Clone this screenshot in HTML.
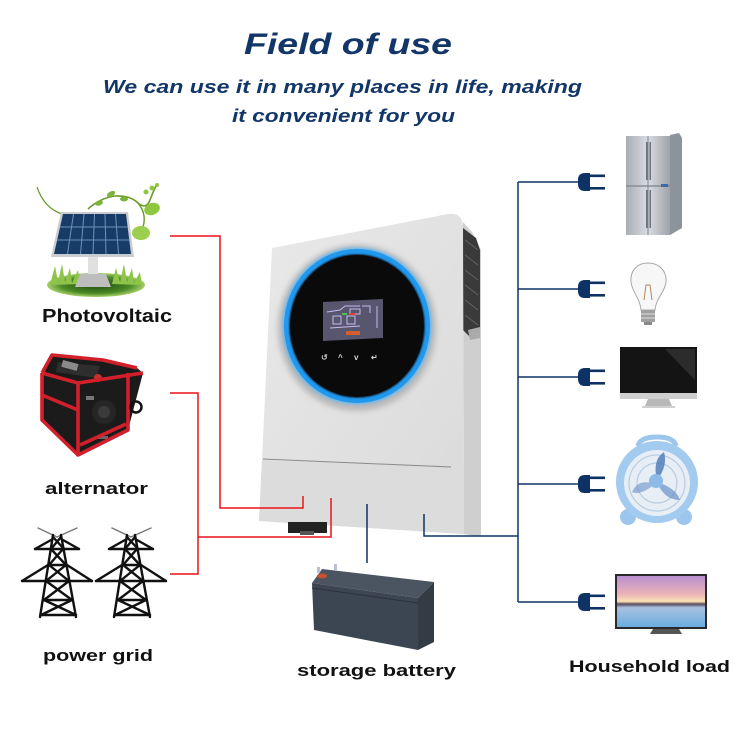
<!DOCTYPE html>
<html><head><meta charset="utf-8"><style>
html,body{margin:0;padding:0;background:#fff;}
svg{display:block;}
text{font-family:"Liberation Sans",Arial,sans-serif;font-weight:700;}
</style></head><body>
<svg width="750" height="750" viewBox="0 0 750 750" xmlns="http://www.w3.org/2000/svg">
<defs>
<linearGradient id="front" x1="0" y1="0" x2="1" y2="1"><stop offset="0" stop-color="#e9e9e9"/><stop offset="1" stop-color="#dadada"/></linearGradient>
<linearGradient id="fridge" x1="0" y1="0" x2="1" y2="0"><stop offset="0" stop-color="#a9aeb5"/><stop offset="0.5" stop-color="#d9dce0"/><stop offset="1" stop-color="#9ea3aa"/></linearGradient>
<linearGradient id="sky" x1="0" y1="0" x2="0" y2="1"><stop offset="0" stop-color="#b98fd0"/><stop offset="0.35" stop-color="#eab2b8"/><stop offset="0.5" stop-color="#fbe2b4"/><stop offset="0.55" stop-color="#5a4a60"/><stop offset="0.62" stop-color="#a8c0e0"/><stop offset="1" stop-color="#6aaee0"/></linearGradient>
<radialGradient id="grass" cx="0.5" cy="0.5" r="0.5"><stop offset="0" stop-color="#1f4a12"/><stop offset="0.7" stop-color="#4c8a25"/><stop offset="1" stop-color="#a6cf6a"/></radialGradient>
<filter id="blur" x="-20%" y="-20%" width="140%" height="140%"><feGaussianBlur stdDeviation="3"/></filter>
<filter id="blur2" x="-20%" y="-20%" width="140%" height="140%"><feGaussianBlur stdDeviation="1.5"/></filter>
</defs>
<rect width="750" height="750" fill="#fff"/>

<!-- Titles -->
<text x="244" y="54" font-size="30" font-style="italic" fill="#123668" textLength="208" lengthAdjust="spacingAndGlyphs">Field of use</text>
<text x="103" y="93" font-size="18" font-style="italic" fill="#123668" textLength="479" lengthAdjust="spacingAndGlyphs">We can use it in many places in life, making</text>
<text x="232" y="122" font-size="18" font-style="italic" fill="#123668" textLength="223" lengthAdjust="spacingAndGlyphs">it convenient for you</text>

<!-- Solar panel -->
<path d="M37,187 Q44,208 62,214" stroke="#6a9a2a" stroke-width="1.2" fill="none"/>
<path d="M88,209 Q100,198 115,196 Q130,195 138,203 Q146,210 150,200 Q153,192 156,186" stroke="#6a9a2a" stroke-width="1.6" fill="none"/>
<path d="M138,203 Q148,215 142,230" stroke="#6a9a2a" stroke-width="1.4" fill="none"/>
<ellipse cx="99" cy="203" rx="4" ry="2.5" fill="#7cb33a" transform="rotate(-20 99 203)"/>
<ellipse cx="111" cy="194" rx="4.5" ry="2.5" fill="#7cb33a" transform="rotate(-30 111 194)"/>
<ellipse cx="124" cy="199" rx="4" ry="2.5" fill="#7cb33a"/>
<ellipse cx="152" cy="209" rx="8" ry="6" fill="#8dc63f" transform="rotate(-20 152 209)"/>
<ellipse cx="141" cy="233" rx="9" ry="7" fill="#9ccf4f"/>
<circle cx="152" cy="188" r="2.5" fill="#8dc63f"/><circle cx="157" cy="185" r="2" fill="#8dc63f"/><circle cx="146" cy="192" r="2.5" fill="#8dc63f"/>
<ellipse cx="96" cy="285" rx="49" ry="12" fill="url(#grass)"/>
<path d="M50,285 L55,266 L58,282 L62,264 L65,282 L70,268 L72,283 L78,270 L80,284 Z" fill="#8fc44a"/>
<path d="M112,284 L116,268 L120,282 L124,264 L127,282 L132,268 L134,283 L140,272 L142,285 Z" fill="#8fc44a"/>
<polygon points="61,212 128,212 134,257 51,257" fill="#c9cdd2"/>
<polygon points="63,214 126,214 131,254 54,254" fill="#173c68"/>
<g stroke="#6f93b8" stroke-width="1">
<line x1="60" y1="227" x2="128" y2="227"/><line x1="57" y1="240" x2="130" y2="240"/>
<line x1="73.5" y1="214" x2="67.5" y2="254"/><line x1="84" y1="214" x2="80.5" y2="254"/><line x1="94.5" y1="214" x2="93" y2="254"/><line x1="105" y1="214" x2="106" y2="254"/><line x1="115.5" y1="214" x2="118.5" y2="254"/>
</g>
<rect x="88" y="257" width="10" height="18" fill="#e0e0e0"/>
<polygon points="80,274 106,274 111,287 75,287" fill="#bdbdbd"/>
<text x="42" y="322" font-size="18" fill="#111" textLength="130" lengthAdjust="spacingAndGlyphs">Photovoltaic</text>

<!-- Generator -->
<polygon points="42,373 52,355 103,360 137,368 143,373 128,430 78,455 42,420" fill="#1b1b1b"/>
<polygon points="58,362 100,366 96,378 56,372" fill="#2e2e2e"/>
<rect x="62" y="362" width="16" height="7" fill="#8a8a8a" transform="rotate(15 70 365)"/>
<circle cx="98" cy="378" r="4" fill="#c83030"/>
<circle cx="104" cy="412" r="12" fill="#262626"/>
<circle cx="104" cy="412" r="6" fill="#3a3a3a"/>
<rect x="86" y="396" width="8" height="4" fill="#777"/>
<rect x="96" y="436" width="12" height="3" fill="#666"/>
<g stroke="#d2202b" stroke-width="3.6" fill="none" stroke-linejoin="round">
<polyline points="42,373 52,355 103,360 137,368"/>
<polyline points="42,373 78,383 143,373"/>
<polyline points="78,383 78,455 128,430 128,373"/>
<polyline points="42,373 42,420 78,455"/>
<line x1="42" y1="395" x2="78" y2="410"/>
<line x1="80" y1="445" x2="126" y2="424"/>
</g>
<circle cx="136" cy="407" r="5.5" stroke="#111" stroke-width="2.5" fill="none"/>
<text x="45" y="494" font-size="17" fill="#111" textLength="103" lengthAdjust="spacingAndGlyphs">alternator</text>

<!-- Pylons -->
<g id="pyl" stroke="#111" stroke-width="2.4" fill="none" stroke-linecap="round">
<polyline points="38,528 57,537 77,528" stroke="#777" stroke-width="1.4"/>
<line x1="53" y1="535" x2="40" y2="617"/><line x1="61" y1="535" x2="76" y2="617"/>
<line x1="35" y1="549" x2="79" y2="549"/><line x1="35" y1="549" x2="51" y2="540"/><line x1="79" y1="549" x2="63" y2="540"/>
<line x1="22" y1="581" x2="92" y2="581"/><line x1="22" y1="581" x2="48" y2="565"/><line x1="92" y1="581" x2="67" y2="565"/>
<line x1="49" y1="565" x2="66" y2="565"/><line x1="44" y1="600" x2="72" y2="600"/><line x1="41" y1="615" x2="76" y2="615"/>
<line x1="53" y1="537" x2="64" y2="549"/><line x1="61" y1="537" x2="51" y2="549"/>
<line x1="51" y1="549" x2="66" y2="565"/><line x1="63" y1="549" x2="49" y2="565"/>
<line x1="49" y1="565" x2="69" y2="581"/><line x1="66" y1="565" x2="46" y2="581"/>
<line x1="46" y1="581" x2="72" y2="600"/><line x1="69" y1="581" x2="44" y2="600"/>
<line x1="44" y1="600" x2="76" y2="615"/><line x1="72" y1="600" x2="41" y2="615"/>
</g>
<use href="#pyl" transform="translate(74 0)"/>
<text x="43" y="661" font-size="17" fill="#111" textLength="110" lengthAdjust="spacingAndGlyphs">power grid</text>

<!-- Inverter -->
<polygon points="463,222 472,232 481,250 481,537 464,534" fill="#cfcfcf"/>
<polygon points="463,228 476,238 480,250 480,330 470,337 463,330" fill="#3a3a3a"/>
<g stroke="#666" stroke-width="0.8"><line x1="465" y1="240" x2="478" y2="250"/><line x1="465" y1="255" x2="478" y2="265"/><line x1="465" y1="270" x2="478" y2="280"/><line x1="465" y1="285" x2="478" y2="295"/><line x1="465" y1="300" x2="478" y2="310"/><line x1="465" y1="315" x2="478" y2="325"/></g>
<polygon points="468,330 480,327 480,338 470,340" fill="#aaa"/>
<path d="M272,248 L448,214 Q462,212 463,226 L464,534 L259,521 L262,460 Z" fill="url(#front)"/>
<path d="M262,460 L450,467 L464,468 L464,534 L259,521 Z" fill="#dcdcdc"/>
<line x1="263" y1="459" x2="451" y2="467" stroke="#8a8a8a" stroke-width="1"/>
<ellipse cx="357" cy="328" rx="79" ry="83" fill="#b8b8b8" filter="url(#blur)"/>
<ellipse cx="357" cy="326" rx="74" ry="78" fill="#4fb8ff" filter="url(#blur2)"/>
<ellipse cx="357" cy="326" rx="73" ry="77" fill="#1f98ee"/>
<ellipse cx="357" cy="326" rx="68" ry="72" fill="#0a0a0a"/>
<ellipse cx="357" cy="326" rx="68" ry="72" fill="none" stroke="#1d6fb0" stroke-width="2" opacity="0.6"/>
<polygon points="323,302 383,299 383,338 323,341" fill="#58566e"/>
<g stroke="#c8b8f0" stroke-width="1" fill="none">
<polyline points="327,312 340,310 345,306 360,306"/><rect x="350" y="309" width="10" height="5"/><rect x="333" y="316" width="8" height="8"/><rect x="347" y="316" width="8" height="8"/><polyline points="362,306 370,306 370,313"/><line x1="377" y1="306" x2="377" y2="328"/><line x1="330" y1="328" x2="360" y2="326"/>
</g>
<rect x="342" y="313" width="5" height="2" fill="#50c050"/><rect x="350" y="313" width="5" height="2" fill="#e04040"/>
<rect x="346" y="331" width="14" height="4" fill="#d06030"/>
<g fill="#d0d0d0" font-size="8"><text x="321" y="360">↺</text><text x="338" y="360">^</text><text x="354" y="360">v</text><text x="371" y="360">↵</text></g>
<rect x="288" y="522" width="39" height="11" fill="#222"/>
<rect x="300" y="531" width="14" height="4" fill="#555"/>

<!-- Battery -->
<polygon points="312,583 322,569 434,582 418,598" fill="#4b5561"/>
<polygon points="312,583 418,598 418,650 314,630" fill="#3c4652"/>
<polygon points="418,598 434,582 434,642 418,650" fill="#333b45"/>
<line x1="312" y1="588" x2="418" y2="603" stroke="#2b323b" stroke-width="1"/>
<ellipse cx="322" cy="576" rx="5" ry="2.5" fill="#c8502a"/>
<rect x="317" y="567" width="3" height="6" fill="#b8c0d0"/><rect x="334" y="564" width="3" height="6" fill="#b8c0d0"/>
<text x="297" y="676" font-size="17" fill="#111" textLength="159" lengthAdjust="spacingAndGlyphs">storage battery</text>

<!-- Connectors -->
<g fill="none" stroke-width="1.5">
<polyline points="170,236 220,236 220,508 303,508 303,496" stroke="#e8141a"/>
<polyline points="170,393 198,393 198,574 170,574" stroke="#e8141a"/>
<polyline points="198,537 331,537 331,498" stroke="#e8141a"/>
<line x1="367" y1="504" x2="367" y2="563" stroke="#0d3366"/>
<polyline points="424,514 424,536 518,536" stroke="#0d3366"/>
<line x1="518" y1="182" x2="518" y2="602" stroke="#0d3366"/>
<line x1="518" y1="182" x2="580" y2="182" stroke="#0d3366"/>
<line x1="518" y1="289" x2="580" y2="289" stroke="#0d3366"/>
<line x1="518" y1="377" x2="580" y2="377" stroke="#0d3366"/>
<line x1="518" y1="484" x2="580" y2="484" stroke="#0d3366"/>
<line x1="518" y1="602" x2="580" y2="602" stroke="#0d3366"/>
</g>
<g id="plug" fill="#0d3366">
<path d="M585,173 L590,173 L590,191 L585,191 Q578,191 578,184 L578,180 Q578,173 585,173 Z"/>
<rect x="590" y="174.5" width="15" height="2.6"/><rect x="590" y="187" width="15" height="2.6"/>
</g>
<use href="#plug" transform="translate(0 107)"/>
<use href="#plug" transform="translate(0 195)"/>
<use href="#plug" transform="translate(0 302)"/>
<use href="#plug" transform="translate(0 420)"/>

<!-- Fridge -->
<polygon points="670,135 679,133 682,138 682,228 670,235" fill="#8d939b"/>
<rect x="626" y="136" width="44" height="99" fill="url(#fridge)"/>
<line x1="648" y1="136" x2="648" y2="235" stroke="#7e848c" stroke-width="1"/>
<line x1="626" y1="186" x2="670" y2="186" stroke="#7e848c" stroke-width="1.2"/>
<rect x="646" y="142" width="1.5" height="38" fill="#6c727a"/><rect x="649.5" y="142" width="1.5" height="38" fill="#6c727a"/>
<rect x="646" y="190" width="1.5" height="38" fill="#6c727a"/><rect x="649.5" y="190" width="1.5" height="38" fill="#6c727a"/>
<rect x="661" y="184" width="7" height="3" fill="#3a6aa8"/>

<!-- Bulb -->
<path d="M648,263 C636,263 630,272 631,282 C632,292 640,298 641,310 L655,310 C656,298 665,292 666,282 C667,272 660,263 648,263 Z" fill="#f7f7f7" stroke="#a8a8a8" stroke-width="1"/>
<path d="M644,300 L646,285 L650,285 L652,300" stroke="#b08a5a" fill="none" stroke-width="1"/>
<rect x="641" y="310" width="14" height="12" fill="#a0a0a0"/>
<line x1="641" y1="314" x2="655" y2="314" stroke="#ddd"/><line x1="641" y1="318" x2="655" y2="318" stroke="#ddd"/>
<rect x="644" y="322" width="8" height="3" fill="#888"/>

<!-- Monitor -->
<rect x="620" y="347" width="77" height="46" fill="#141414"/>
<polygon points="665,349 695,349 695,380" fill="#2c2c2c"/>
<rect x="620" y="393" width="77" height="6" fill="#cfcfcf"/>
<polygon points="648,399 669,399 672,406 645,406" fill="#b8b8b8"/>
<rect x="642" y="406" width="33" height="2" fill="#d0d0d0"/>

<!-- Fan -->
<path d="M638,446 Q640,437 657,437 Q674,437 676,446" stroke="#9ec6ec" stroke-width="5" fill="none"/>
<circle cx="628" cy="517" r="8" fill="#9cc6ee"/><circle cx="684" cy="517" r="8" fill="#9cc6ee"/>
<circle cx="657" cy="482" r="41" fill="#a3cbf0"/>
<circle cx="657" cy="483" r="33" fill="#e7eef6"/>
<g stroke="#b8cde0" stroke-width="1.2" fill="none">
<circle cx="657" cy="483" r="28"/><circle cx="657" cy="483" r="20"/>
</g>
<path d="M657,480 Q652,460 664,452 Q668,466 657,480 Z" fill="#4a78b8" opacity="0.8"/>
<path d="M657,482 Q676,488 680,500 Q664,500 657,482 Z" fill="#6a90c8" opacity="0.7"/>
<path d="M655,484 Q640,496 632,492 Q638,478 655,484 Z" fill="#6a90c8" opacity="0.6"/>
<circle cx="656" cy="481" r="7" fill="#8cbbe8"/>

<!-- TV -->
<rect x="615" y="574" width="92" height="55" fill="#2a2a2a"/>
<rect x="617" y="576" width="88" height="51" fill="url(#sky)"/>
<polygon points="653,629 679,629 682,634 650,634" fill="#555"/>
<text x="569" y="672" font-size="17" fill="#111" textLength="161" lengthAdjust="spacingAndGlyphs">Household load</text>
</svg>
</body></html>
